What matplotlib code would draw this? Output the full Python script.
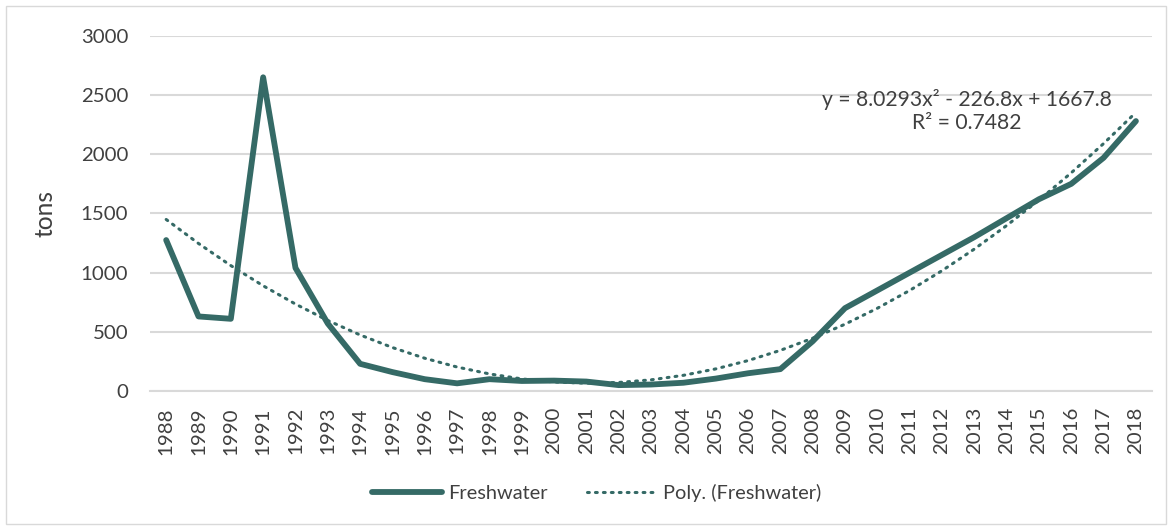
import numpy as np
import matplotlib
matplotlib.use("Agg")
import matplotlib.pyplot as plt
from matplotlib.patches import Rectangle

years = list(range(1988, 2019))
freshwater = [1275, 630, 610, 2650, 1040, 570, 230, 160, 100, 65, 100, 85, 88, 80, 50,
              55, 70, 105, 150, 185, 420, 700, 850, 1000, 1150, 1300, 1460, 1620, 1750, 1970, 2280]
trend_coeffs = [8.0293, -226.8, 1667.8]
y_ticks = [0, 500, 1000, 1500, 2000, 2500, 3000]
eq_text = 'y = 8.0293x\u00b2 - 226.8x + 1667.8\nR\u00b2 = 0.7482'

color = "#356a66"
text_color = '#404040'
plt.rcParams['font.family'] = ['Lato', 'DejaVu Sans']

fig = plt.figure(figsize=(11.72, 5.27), dpi=100)
renderer = fig.canvas.get_renderer()


def fit_size(s, target_px, base=12.0):
    t = fig.text(0, 0, s, fontsize=base)
    w = t.get_window_extent(renderer).width
    t.remove()
    return base * target_px / w


tick_fs = fit_size('3000', 47)
leg_fs = fit_size('Freshwater', 99)
lab_fs = fit_size('tons', 47)
eq_fs = fit_size('y = 8.0293x\u00b2 - 226.8x + 1667.8', 290)

ax = fig.add_axes([0.128, 0.258, 0.855, 0.674])

x = np.arange(len(years))
trend = np.polyval(trend_coeffs, x + 1)

ax.plot(x, freshwater, color=color, lw=4.2, solid_joinstyle='round', solid_capstyle='round',
        label='Freshwater', zorder=3)
ax.plot(x, trend, color=color, lw=2.2, linestyle=(0, (0.6, 2.0)), dash_capstyle='round',
        label='Poly. (Freshwater)', zorder=4)

ax.set_xlim(-0.5, len(years) - 0.5)
ax.set_ylim(0, 3000)
ax.set_yticks(y_ticks)
ax.set_yticklabels([str(v) for v in y_ticks], fontsize=tick_fs, color=text_color)
ax.set_xticks(x)
ax.set_xticklabels([str(y) for y in years], rotation=90, fontsize=tick_fs, color=text_color)
ax.tick_params(axis='y', length=0, pad=15.8)
ax.tick_params(axis='x', length=0, pad=11.5)
ax.grid(axis='y', color='#d9d9d9', lw=1.5)
ax.set_axisbelow(True)
for s in ['top', 'right', 'left']:
    ax.spines[s].set_visible(False)
ax.spines['bottom'].set_color('#d9d9d9')
ax.spines['bottom'].set_linewidth(1.5)
ax.set_ylabel('tons', fontsize=lab_fs, color=text_color)
ax.yaxis.set_label_coords(-0.093, 0.5)

ax.text(0.815, 0.789, eq_text, transform=ax.transAxes,
        ha='center', va='center', fontsize=eq_fs, color=text_color, linespacing=1.2)

leg = fig.legend(loc='center', bbox_to_anchor=(0.509, 0.0645), ncol=2, frameon=False,
                 fontsize=leg_fs, handlelength=3.5, columnspacing=2.0, handletextpad=0.3)
for t in leg.get_texts():
    t.set_color(text_color)

fig.patches.append(Rectangle((0.005, 0.006), 0.99, 0.982, transform=fig.transFigure,
                             fill=False, edgecolor='#d9d9d9', lw=1))

fig.savefig('out.png', dpi=100)
